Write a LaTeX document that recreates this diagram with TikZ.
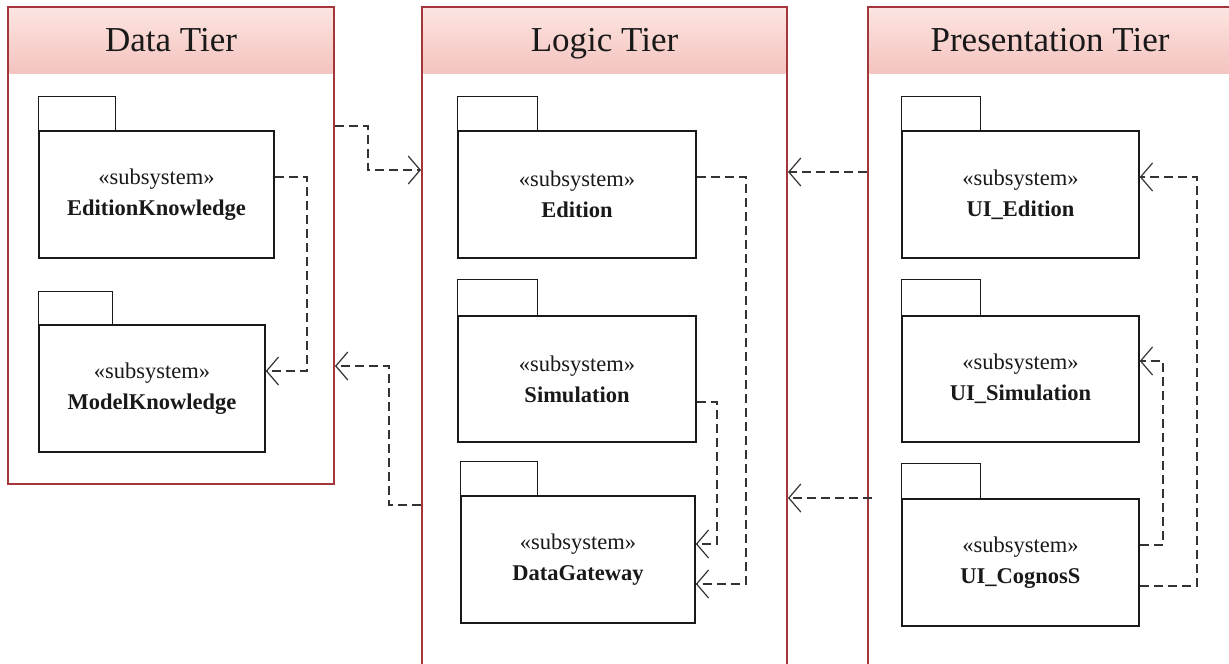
\documentclass[tikz,border=0pt]{standalone}
\usepackage{fontspec}
\setmainfont{Liberation Serif}
\usetikzlibrary{arrows.meta}
\definecolor{tierred}{HTML}{A3363B}
\definecolor{hdtop}{HTML}{FCE4E0}
\definecolor{hdbot}{HTML}{F4C3BF}
\tikzset{
  tier/.style={draw=tierred, line width=2pt, fill=white, inner sep=0pt},
  pkg/.style={draw=black!90, line width=1.5pt, fill=white, inner sep=0pt, align=center,
    font=\fontsize{22.5}{31}\selectfont, text=black!90},
  tab/.style={draw=black!90, line width=1.5pt, fill=white},
  title/.style={font=\fontsize{35}{40}\selectfont, text=black!90, anchor=base},
  dep/.style={draw=black!80, line width=1.2pt, dash pattern=on 9pt off 5pt,
    -{Straight Barb[length=12pt,width=28pt,line width=1.2pt]}}
}
\newcommand{\pkgtext}[1]{«subsystem»\\\textbf{#1}}
\begin{document}
\begin{tikzpicture}[x=1pt,y=-1pt]
\clip (0,0) rectangle (1229,664);
\fill[white] (0,0) rectangle (1229,664);
% tiers
\node[tier, minimum width=326, minimum height=477] (dt) at (171,245.5) {};
\node[tier, minimum width=365, minimum height=700] (lt) at (604.5,357) {};
\node[tier, minimum width=400, minimum height=700] (pt) at (1068,357) {};
\shade[top color=hdtop, bottom color=hdbot] (9.5,8.5) rectangle (332.5,73);
\shade[top color=hdtop, bottom color=hdbot] (423.5,8.5) rectangle (785.5,73);
\shade[top color=hdtop, bottom color=hdbot] (869.5,8.5) rectangle (1229,73);
\node[title] (dtt) at (171,51) {Data Tier};
\node[title] (ltt) at (604.5,51) {Logic Tier};
\node[title] (ptt) at (1050,51) {Presentation Tier};
% packages: data tier
\node[pkg, minimum width=235, minimum height=127] (ek) at (156.5,194.5) {\pkgtext{EditionKnowledge}};
\draw[tab] (ek.north west) rectangle ++(77,-34);
\node[pkg, minimum width=226, minimum height=127] (mk) at (152,388.5) {\pkgtext{ModelKnowledge}};
\draw[tab] (mk.north west) rectangle ++(74,-33);
% logic tier
\node[pkg, minimum width=238, minimum height=127] (ed) at (577,194.5) {\pkgtext{Edition}};
\draw[tab] (ed.north west) rectangle ++(80,-34);
\node[pkg, minimum width=238, minimum height=126] (si) at (577,379) {\pkgtext{Simulation}};
\draw[tab] (si.north west) rectangle ++(80,-36);
\node[pkg, minimum width=234, minimum height=127] (dg) at (578,559.5) {\pkgtext{DataGateway}};
\draw[tab] (dg.north west) rectangle ++(77,-34);
% presentation tier
\node[pkg, minimum width=237, minimum height=127] (ue) at (1020.5,194.5) {\pkgtext{UI\_Edition}};
\draw[tab] (ue.north west) rectangle ++(79,-34);
\node[pkg, minimum width=237, minimum height=126] (us) at (1020.5,379) {\pkgtext{UI\_Simulation}};
\draw[tab] (us.north west) rectangle ++(79,-36);
\node[pkg, minimum width=237, minimum height=127] (uc) at (1020.5,562.5) {\pkgtext{UI\_CognosS}};
\draw[tab] (uc.north west) rectangle ++(79,-35);
% connectors
\draw[dep] (dt.east |- 0,126) -- (368,126) -- (368,170) -- (lt.west |- 0,170);
\draw[dep] (ek.east |- 0,177) -- (307,177) -- (307,371) -- (mk.east |- 0,371);
\draw[dep] (lt.west |- 0,505) -- (389,505) -- (389,366) -- (dt.east |- 0,366);
\draw[dep] (pt.west |- 0,172) -- (lt.east |- 0,172);
\coordinate (c5) at (872,498);
\draw[dep] (c5) -- (lt.east |- 0,498);
\draw[dep] (ed.east |- 0,177) -- (746,177) -- (746,584) -- (dg.east |- 0,584);
\draw[dep] (si.east |- 0,402) -- (717,402) -- (717,544) -- (dg.east |- 0,544);
\draw[dep] (uc.east |- 0,545) -- (1163,545) -- (1163,361) -- (us.east |- 0,361);
\draw[dep] (uc.east |- 0,586) -- (1197,586) -- (1197,177) -- (ue.east |- 0,177);
\end{tikzpicture}
\end{document}
